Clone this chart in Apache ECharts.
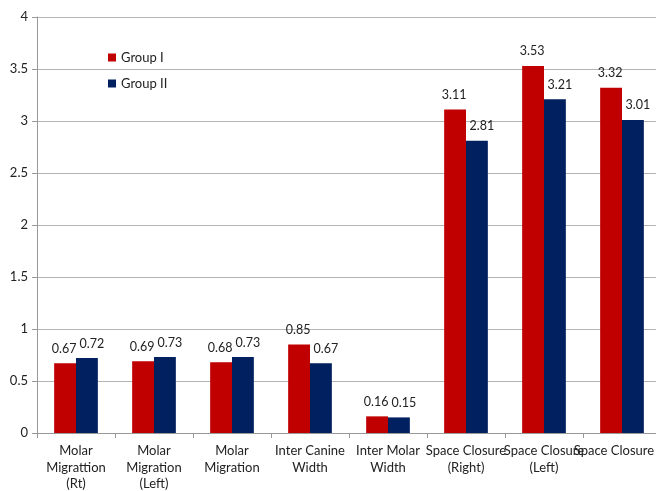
<!DOCTYPE html>
<html>
<head>
<meta charset="utf-8">
<script src="https://cdn.jsdelivr.net/npm/echarts@6/dist/echarts.min.js"></script>
<style>
  html, body { margin: 0; padding: 0; background: #fff; }
  #chart { width: 656px; height: 491px; }
</style>
</head>
<body>
<div id="chart"></div>
<script>
const categories = [
  'Molar\nMigrattion\n(Rt)',
  'Molar\nMigration\n(Left)',
  'Molar\nMigration',
  'Inter Canine\nWidth',
  'Inter Molar\nWidth',
  'Space Closure\n(Right)',
  'Space Closure\n(Left)',
  'Space Closure'
];
const groupI = [0.67, 0.69, 0.68, 0.85, 0.16, 3.11, 3.53, 3.32];
const groupII = [0.72, 0.73, 0.73, 0.67, 0.15, 2.81, 3.21, 3.01];

let chart = echarts.init(document.getElementById('chart'));
const font = 'Lato, "Open Sans", sans-serif';

// last category label sits at the right edge, nudge it left so it fits
let xData = categories.map((c, i) => i === categories.length - 1
  ? { value: c, textStyle: { padding: [0, 16, 0, 0] } }
  : c);

let option = {
  textStyle: { fontFamily: font },
  animation: false,
  legend: {
    data: ['Group I', 'Group II'],
    orient: 'vertical',
    left: 103,
    top: 46,
    itemWidth: 8,
    itemHeight: 8,
    itemGap: 13,
    icon: 'rect',
    textStyle: { fontSize: 13, color: '#222', fontFamily: font }
  },
  grid: {
    left: 37,
    top: 17,
    width: 624,
    height: 416,
    containLabel: false,
    outerBoundsMode: 'none'
  },
  xAxis: {
    type: 'category',
    data: xData,
    axisLine: { lineStyle: { color: '#999' } },
    axisTick: { show: true, length: 5, lineStyle: { color: '#999' } },
    axisLabel: {
      interval: 0,
      fontSize: 13,
      color: '#222',
      lineHeight: 16.5,
      margin: 10,
      fontFamily: font
    }
  },
  yAxis: {
    type: 'value',
    min: 0,
    max: 4,
    interval: 0.5,
    axisLine: { show: true, lineStyle: { color: '#999' } },
    axisTick: { show: true, length: 5, lineStyle: { color: '#999' } },
    splitLine: { lineStyle: { color: '#b5b5b5' } },
    axisLabel: { fontSize: 13, color: '#222', margin: 9, fontFamily: font }
  },
  series: [
    {
      name: 'Group I',
      type: 'bar',
      data: groupI,
      barGap: '0%',
      barCategoryGap: '44%',
      itemStyle: { color: '#C00000' },
      label: { show: true, position: 'top', distance: 8, offset: [-1, 0], fontSize: 12.5, color: '#222', fontFamily: font }
    },
    {
      name: 'Group II',
      type: 'bar',
      data: groupII,
      itemStyle: { color: '#002060' },
      label: { show: true, position: 'top', distance: 8, offset: [5, 0], fontSize: 12.5, color: '#222', fontFamily: font }
    }
  ]
};
chart.setOption(option);
</script>
</body>
</html>
